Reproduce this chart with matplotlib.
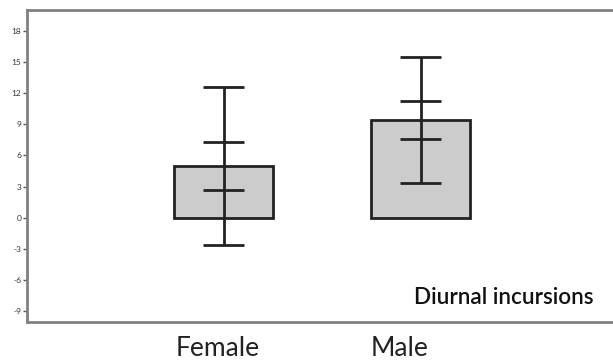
import matplotlib
matplotlib.use('Agg')
import matplotlib.pyplot as plt

# data
groups = ['Female', 'Male']
means = [5.0, 9.4]
inner_low = [2.7, 7.55]
inner_high = [7.3, 11.2]
outer_low = [-2.6, 3.3]
outer_high = [12.6, 15.45]
yticks = [-9, -6, -3, 0, 3, 6, 9, 12, 15, 18]

plt.rcParams['font.family'] = ['Lato', 'DejaVu Sans']

fig = plt.figure(figsize=(6.13, 3.64), dpi=100)
ax = fig.add_axes([27 / 613, 1 - 322 / 364, 586 / 613, 312 / 364])

pos = [0, 1]
ax.bar(pos, means, width=0.5, color='#cccccc', edgecolor='#222222', linewidth=2, zorder=1)
for p, lo, hi, ilo, ihi in zip(pos, outer_low, outer_high, inner_low, inner_high):
    ax.vlines(p, lo, hi, color='#222222', linewidth=2, zorder=2)
    ax.hlines([lo, hi, ilo, ihi], p - 0.105, p + 0.105, color='#222222', linewidth=2, zorder=2)

ax.set_xlim(-0.9975, 1.977)
ax.set_ylim(-10.05, 20.0)
ax.set_yticks(yticks)
ax.set_yticklabels([str(t) for t in yticks], fontsize=6, color='#333333')
ax.tick_params(axis='y', length=3, width=1, color='#555555', pad=1)
ax.set_xticks([])

for s in ['left', 'top', 'bottom']:
    ax.spines[s].set_color('#808080')
    ax.spines[s].set_linewidth(2)
ax.spines['right'].set_visible(False)

fig.text(593 / 613, 1 - 297 / 364, 'Diurnal incursions',
         ha='right', va='center', fontsize=16.2, fontweight='semibold', color='#111111')

# group names under the axis
for p, g in zip([217.5, 400], groups):
    fig.text(p / 613, 1 - 349 / 364, g, ha='center', va='center', fontsize=19,
             fontweight='normal', color='#222222')

fig.savefig('out.png', dpi=100)
